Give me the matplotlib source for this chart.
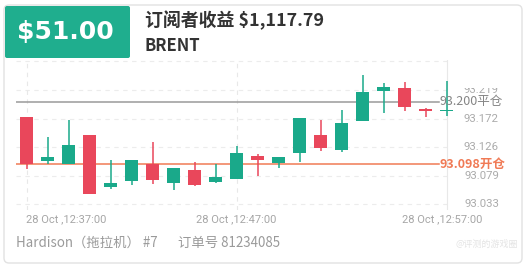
import matplotlib
matplotlib.use("Agg")
import matplotlib.pyplot as plt
from matplotlib.patches import FancyBboxPatch, Rectangle

plt.rcParams['font.family'] = ['Noto Sans CJK SC', 'DejaVu Sans']

# candle data, one per minute from 12:37 to 12:57
opens = [93.175, 93.103, 93.098, 93.145, 93.061, 93.071, 93.099, 93.067, 93.089, 93.069,
         93.074, 93.112, 93.100, 93.117, 93.146, 93.121, 93.168, 93.217, 93.223, 93.188, 93.185]
highs = [93.175, 93.143, 93.170, 93.145, 93.104, 93.105, 93.134, 93.092, 93.102, 93.098,
         93.128, 93.114, 93.110, 93.173, 93.170, 93.187, 93.243, 93.230, 93.232, 93.190, 93.233]
lows = [93.090, 93.098, 93.098, 93.050, 93.057, 93.064, 93.066, 93.056, 93.062, 93.067,
        93.074, 93.079, 93.091, 93.101, 93.120, 93.118, 93.168, 93.181, 93.185, 93.175, 93.177]
closes = [93.098, 93.110, 93.130, 93.050, 93.068, 93.105, 93.072, 93.091, 93.064, 93.077,
          93.116, 93.105, 93.110, 93.173, 93.125, 93.165, 93.216, 93.224, 93.192, 93.184, 93.187]

y_ticks = [93.219, 93.172, 93.126, 93.079, 93.033]
time_labels = ["28 Oct ,12:37:00", "28 Oct ,12:47:00", "28 Oct ,12:57:00"]
time_index = [0, 10, 20]

close_price = 93.200
open_price = 93.098

badge_text = "$51.00"
title_text = "订阅者收益 $1,117.79"
symbol_text = "BRENT"
footer_left = "Hardison（拖拉机） #7"
footer_right = "订单号 81234085"

GREEN = "#1aa98a"
RED = "#e9475b"
ORANGE = "#f07a55"

W, H = 527, 271
fig = plt.figure(figsize=(W / 100, H / 100), dpi=100)
fig.patch.set_facecolor("white")


def frac(x0, y0, x1, y1):
    # pixel box (top-left origin) -> figure fraction rect
    return [x0 / W, 1 - y1 / H, (x1 - x0) / W, (y1 - y0) / H]


# background / card layer in pixel coordinates
bg = fig.add_axes([0, 0, 1, 1])
bg.set_xlim(0, W)
bg.set_ylim(H, 0)
bg.axis("off")

bg.add_patch(FancyBboxPatch((4, 5), 518, 258, boxstyle="round,pad=0,rounding_size=5",
                            facecolor="white", edgecolor="#e2e2e2", linewidth=1))
bg.add_patch(FancyBboxPatch((5, 6), 125, 52, boxstyle="round,pad=0,rounding_size=2",
                            facecolor="#1fae8e", edgecolor="none"))
bg.text(65, 32, badge_text, color="white", fontsize=18, fontweight="bold",
        family="DejaVu Sans", ha="center", va="center")
bg.text(145, 20, title_text, color="#333333", fontsize=12.9, fontweight="bold",
        ha="left", va="center")
bg.text(145, 46, symbol_text, color="#333333", fontsize=12, fontweight="bold",
        ha="left", va="center")
bg.text(16, 243, footer_left, color="#9a9a9a", fontsize=9.6, ha="left", va="center")
bg.text(178, 243, footer_right, color="#9a9a9a", fontsize=9.6, ha="left", va="center")
bg.text(518, 244, "@评测的游戏圈", color="#e4e4e4", fontsize=6.5, ha="right", va="center")

# candle axes
px_left, px_right, px_top, px_bottom = 16, 505, 60, 210
spacing = 21.0
x0_px = 26.5
scale = 613.0  # pixels per price unit
ref_price, ref_px = 93.219, 90


def price_at(py):
    return ref_price - (py - ref_px) / scale


ax = fig.add_axes(frac(px_left, px_top, px_right, px_bottom))
ax.set_xlim((px_left - x0_px) / spacing, (px_right - x0_px) / spacing)
ax.set_ylim(price_at(px_bottom), price_at(px_top))
ax.axis("off")
ax.patch.set_alpha(0)

grid_right = (447 - x0_px) / spacing
grid_left = (px_left - x0_px) / spacing

for t in y_ticks + [price_at(61)]:
    ax.plot([grid_left, grid_right], [t, t], color="#ececec", lw=0.8,
            linestyle=(0, (4, 4)), zorder=1)
for i in time_index:
    ax.plot([i, i], [price_at(px_bottom), price_at(px_top)], color="#e8e8e8", lw=0.8,
            linestyle=(0, (4, 4)) if i != time_index[-1] else "-", zorder=1)

body_w = 0.64
for i, (o, h, l, c) in enumerate(zip(opens, highs, lows, closes)):
    col = GREEN if c >= o else RED
    ax.plot([i, i], [l, h], color=col, lw=1.1, zorder=3, solid_capstyle="butt")
    lo, hi = min(o, c), max(o, c)
    ax.add_patch(Rectangle((i - body_w / 2, lo), body_w, max(hi - lo, 0.002),
                           facecolor=col, edgecolor="none", zorder=4))

label_x = (439 - x0_px) / spacing
ax.plot([grid_left, label_x], [close_price, close_price], color="#9a9a9a", lw=1.1, zorder=2)
ax.plot([grid_left, label_x], [open_price, open_price], color=ORANGE, lw=1.1, zorder=2)
ax.text(label_x, close_price, f"{close_price:.3f}平仓", color="#858585", fontsize=9,
        ha="left", va="center", zorder=6, clip_on=False)
ax.text(label_x, open_price, f"{open_price:.3f}开仓", color=ORANGE, fontsize=9,
        fontweight="bold", ha="left", va="center", zorder=6, clip_on=False)

# y tick labels, clipped at the top like the reference
lab = fig.add_axes(frac(455, 88.5, 505, 212))
lab.set_xlim(455, 505)
lab.set_ylim(price_at(212), price_at(88.5))
lab.axis("off")
lab.patch.set_alpha(0)
for t in y_ticks:
    lab.text(499, t, f"{t:.3f}", color="#ababab", fontsize=8.2, family="Roboto",
             ha="right", va="center", clip_on=True)

# time labels
for i, txt in zip(time_index, time_labels):
    px = x0_px + i * spacing
    ha = "left" if i == time_index[0] else "center"
    if i == time_index[-1]:
        px -= 4
    bg.text(px, 219, txt, color="#a6a6a6", fontsize=8, family="Roboto", ha=ha, va="center")

fig.savefig("out.png", dpi=100)
